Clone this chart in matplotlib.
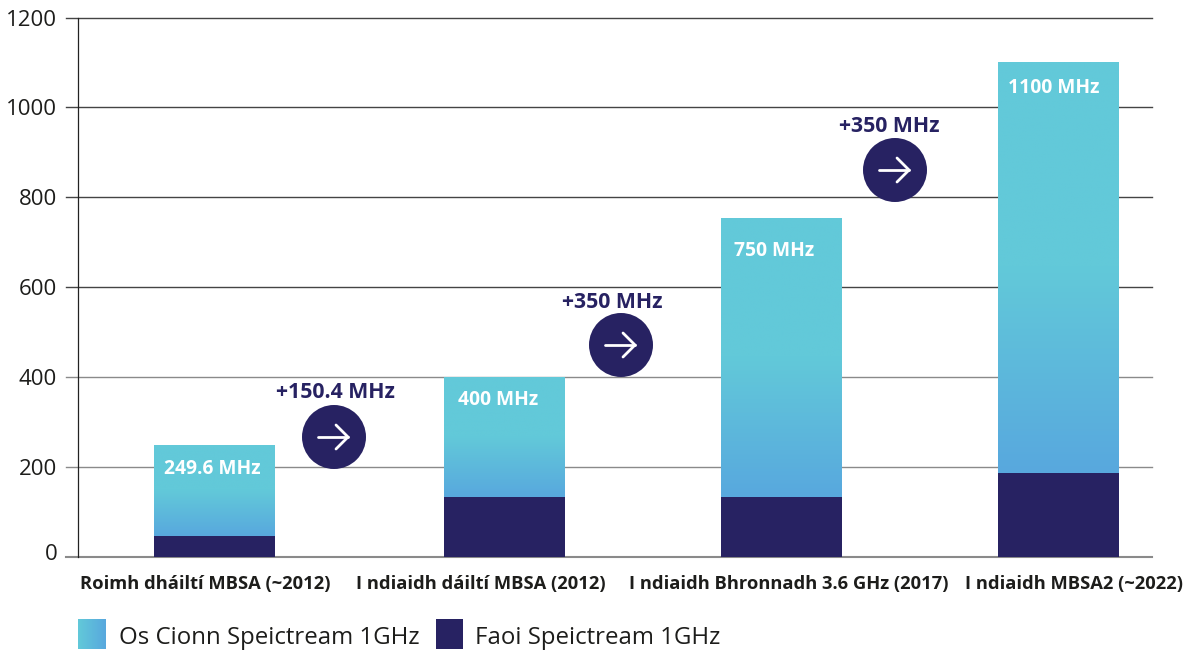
import matplotlib
matplotlib.use('Agg')
import matplotlib.pyplot as plt
import matplotlib.patches as patches
from matplotlib.colors import LinearSegmentedColormap
from matplotlib.transforms import ScaledTranslation
import numpy as np

plt.rcParams['font.family'] = ['Open Sans', 'Noto Sans', 'DejaVu Sans']

categories = ['Roimh dháiltí MBSA (~2012)', 'I ndiaidh dáiltí MBSA (2012)',
              'I ndiaidh Bhronnadh 3.6 GHz (2017)', 'I ndiaidh MBSA2 (~2022)']
below_1ghz = [46, 133, 133, 187]
above_1ghz = [204, 267, 622, 915]
bar_labels = ['249.6 MHz', '400 MHz', '750 MHz', '1100 MHz']
step_labels = ['+150.4 MHz', '+350 MHz', '+350 MHz']
yticks = [0, 200, 400, 600, 800, 1000, 1200]
legend_labels = ['Os Cionn Speictream 1GHz', 'Faoi Speictream 1GHz']

# layout, all in picture pixels
W, H = 1195, 651
bar_left = [154, 444, 721, 998]
bar_w = 120.5
cat_x = [205, 481, 789, 1074]
bar_label_x = [212, 498, 774, 1053.5]
bar_label_y = [469, 400, 251, 88]
steps = [(334, 437), (621, 345), (895, 170)]
step_label_pos = [(335.5, 393), (612.5, 302), (889.5, 127)]

TEAL = '#62C9D9'
BLUE = '#58A8DE'
NAVY = '#272262'
grad_v = LinearSegmentedColormap.from_list('v', [BLUE, TEAL, TEAL], N=256)
grad_h = LinearSegmentedColormap.from_list('h', [TEAL, BLUE], N=256)

fig = plt.figure(figsize=(W / 100, H / 100), dpi=100)
ax = fig.add_axes([78 / W, 1 - 557 / H, (1152 - 78) / W, (557 - 17.5) / H])
ax.set_xlim(78, 1152)
ax.set_ylim(0, 1200)
for s in ['top', 'right', 'bottom']:
    ax.spines[s].set_visible(False)
ax.spines['left'].set_linewidth(0.9)
ax.spines['left'].set_color('#222222')
ax.set_xticks([])
ax.set_yticks(yticks)
ax.tick_params(axis='y', length=0, pad=15, labelsize=16, labelcolor='#1d1d1b')
ax.set_axisbelow(True)
# the 0 label sits a little above its line
zero_label = ax.get_yticklabels()[0]
zero_label.set_transform(zero_label.get_transform() + ScaledTranslation(0, 5 / 100, fig.dpi_scale_trans))
# gridlines reach past the spine on the left, like ticks
for t in yticks:
    ax.plot([66, 1152], [t, t], color='#8a8a8a' if t < 600 else '#444444',
            lw=1.5 if t == 0 else 1.0, clip_on=False, zorder=1)

for i in range(len(categories)):
    bottom = below_1ghz[i]
    top = below_1ghz[i] + above_1ghz[i]
    rect = ax.bar(bar_left[i], above_1ghz[i], bar_w, bottom=bottom, align='edge',
                  color=TEAL, zorder=2)[0]
    # gradient fill, clipped to the bar
    g = np.linspace(0, 1, 256).reshape(-1, 1)
    im = ax.imshow(g, extent=[bar_left[i], bar_left[i] + bar_w, bottom, top], origin='lower',
                   cmap=grad_v, aspect='auto', zorder=2.5)
    im.set_clip_path(rect)
    ax.bar(bar_left[i], below_1ghz[i], bar_w, align='edge', color=NAVY, zorder=3)
ax.set_xlim(78, 1152)
ax.set_ylim(0, 1200)

# overlay in pixel coordinates for the annotations and legend
ov = fig.add_axes([0, 0, 1, 1], facecolor='none')
ov.set_xlim(0, W)
ov.set_ylim(H, 0)
ov.axis('off')

for i, label in enumerate(bar_labels):
    ov.text(bar_label_x[i], bar_label_y[i], label, color='white', fontsize=13.9, fontweight='bold',
            ha='center', va='center')
for i, label in enumerate(categories):
    ov.text(cat_x[i], 583.5, label, color='#1d1d1b', fontsize=13.2, fontweight='bold',
            ha='center', va='center')

for (cx, cy), (tx, ty), label in zip(steps, step_label_pos, step_labels):
    ov.add_patch(patches.Circle((cx, cy), 32, color=NAVY, lw=0))
    ov.plot([cx - 16, cx + 14], [cy, cy], color='white', lw=2, solid_capstyle='round')
    ov.plot([cx + 2, cx + 14, cx + 2], [cy - 12, cy, cy + 12], color='white', lw=2,
            solid_capstyle='round', solid_joinstyle='miter')
    ov.text(tx, ty, label, color=NAVY, fontsize=15.3, fontweight='bold', ha='center', va='center')

# legend
ov.imshow(np.linspace(0, 1, 64).reshape(1, -1), extent=[78, 106, 649, 619], cmap=grad_h, aspect='auto')
ov.add_patch(patches.Rectangle((436, 619), 27, 30, color=NAVY, lw=0))
ov.set_xlim(0, W)
ov.set_ylim(H, 0)
ov.text(119, 638, legend_labels[0], color='#1d1d1b', fontsize=17.3, va='center')
ov.text(475, 638, legend_labels[1], color='#1d1d1b', fontsize=17.3, va='center')

fig.savefig('out.png', dpi=100)
